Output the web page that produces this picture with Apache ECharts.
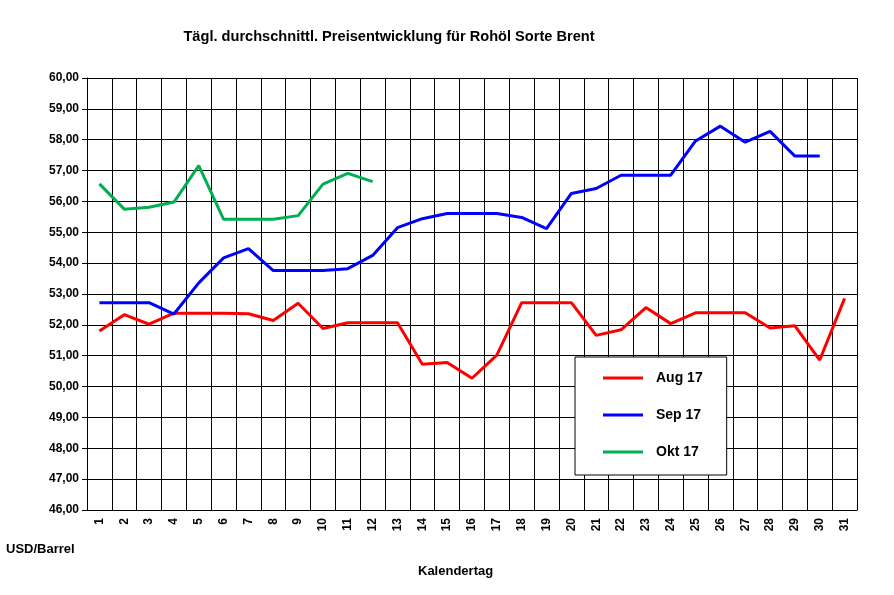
<!DOCTYPE html><html><head><meta charset="utf-8"><script src="https://cdn.jsdelivr.net/npm/echarts@6/dist/echarts.min.js"></script></head><body style="margin:0"><div id="c" style="width:894px;height:595px"></div><script>
const days=[];for(let i=1;i<=31;i++)days.push(String(i));
const aug=[51.8,52.33,52.02,52.38,52.38,52.38,52.36,52.14,52.7,51.88,52.07,52.07,52.07,50.72,50.78,50.27,51.02,52.72,52.72,52.72,51.66,51.84,52.56,52.04,52.39,52.39,52.39,51.9,51.97,50.86,52.86];
const sep=[52.72,52.72,52.72,52.35,53.36,54.17,54.47,53.76,53.76,53.76,53.82,54.25,55.15,55.44,55.61,55.61,55.61,55.48,55.12,56.26,56.42,56.85,56.85,56.85,57.96,58.44,57.92,58.27,57.47,57.47,null];
const okt=[56.57,55.75,55.81,55.98,57.16,55.42,55.42,55.42,55.54,56.56,56.91,56.64];
const c=echarts.init(document.getElementById('c'));
const f='Arial, Liberation Sans, sans-serif';
c.setOption({animation:false,backgroundColor:'#fff',
title:{text:'Tägl. durchschnittl. Preisentwicklung für Rohöl Sorte Brent',left:384,top:24,textAlign:'center',textStyle:{fontFamily:f,fontSize:14.6,fontWeight:'bold',color:'#000'}},
grid:{left:87,right:37,top:78,bottom:85},
graphic:[{type:'text',left:6,top:543,style:{text:'USD/Barrel',font:'bold 13px '+f,fill:'#000'}},
{type:'text',left:418,top:565,style:{text:'Kalendertag',font:'bold 13px '+f,fill:'#000'}}],
legend:{orient:'vertical',left:575,top:357,itemGap:23,padding:[14,24,16,28],backgroundColor:'#fff',borderColor:'#000',borderWidth:1,itemWidth:40,itemHeight:3,icon:'rect',textStyle:{fontFamily:f,fontSize:14,fontWeight:'bold',color:'#000',padding:[0,0,0,8]}},
xAxis:{type:'category',data:days,boundaryGap:true,axisLine:{lineStyle:{color:'#000'}},axisTick:{show:false},splitLine:{show:true,interval:0,lineStyle:{color:'#000'}},axisLabel:{interval:0,rotate:90,fontFamily:f,fontSize:12,fontWeight:'bold',color:'#000'}},
yAxis:{type:'value',min:46,max:60,interval:1,axisLine:{show:true,lineStyle:{color:'#000'}},axisTick:{show:true,lineStyle:{color:'#000'}},splitLine:{lineStyle:{color:'#000'}},axisLabel:{formatter:v=>v.toFixed(2).replace('.',','),fontFamily:f,fontSize:12,fontWeight:'bold',color:'#000'}},
series:[{name:'Aug 17',type:'line',data:aug,symbol:'none',lineStyle:{color:'#ff0000',width:3},itemStyle:{color:'#ff0000'}},
{name:'Sep 17',type:'line',data:sep,symbol:'none',lineStyle:{color:'#0000ff',width:3},itemStyle:{color:'#0000ff'}},
{name:'Okt 17',type:'line',data:okt,symbol:'none',lineStyle:{color:'#00b050',width:3},itemStyle:{color:'#00b050'}}]});
</script></body></html>
